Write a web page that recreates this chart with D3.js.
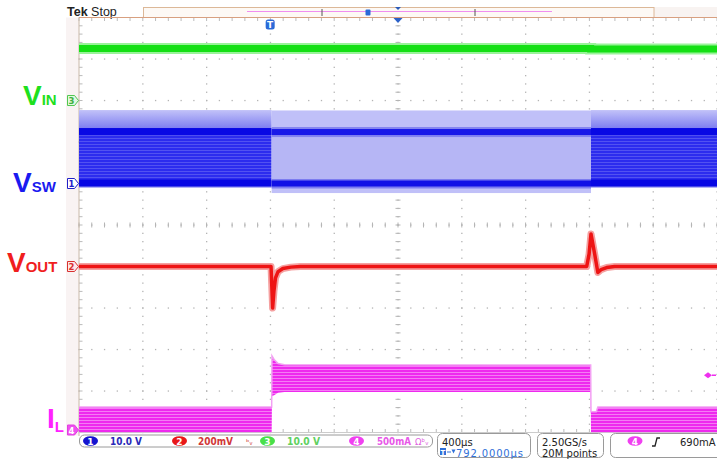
<!DOCTYPE html>
<html><head><meta charset="utf-8">
<script src="https://cdn.jsdelivr.net/npm/d3@7"></script>
<style>html,body{margin:0;padding:0;background:#fff;}svg{display:block;}</style>
</head><body><svg id="c" width="717" height="460"></svg>
<script>
// ---------------- data ----------------
const timeMinUs = -1208, timeMaxUs = 2792, timePerDivUs = 400;
const vertDivMin = -5, vertDivMax = 5;

const channelIds = [1, 2, 3, 4];
const channelMain = ['V', 'V', 'V', 'I'];
const channelSub = ['SW', 'OUT', 'IN', 'L'];
const channelOffsetDiv = [1, -1, 3, -5];
const channelPerDiv = [10, 200, 10, 500];          // V, mV, V, mA per division
const channelScaleLabels = ['10.0 V', '200mV', '10.0 V', '500mA'];

// V_IN (ch3, volts)
const vinTimeUs = [-1208, 2000, 2000, 2792];
const vinVolts = [12.55, 12.55, 12.4, 12.4];

// V_SW (ch1, volts) – envelope segments
const vswSegStartUs = [-1208, 0, 2002];
const vswSegEndUs = [0, 2002, 2792];
const vswEnvHighV = [17.7, 17.6, 17.7];
const vswEnvLowV = [-1.0, -2.3, -1.0];
const vswOnLevelV = [12.4, 12.4, 12.4];
const vswOffLevelV = [0.0, 0.0, 0.0];
const vswMode = ['burst', 'ccm', 'burst'];

// V_OUT (ch2, mV ac deviation)
const voutTimeUs = [-1208, -4, 6, 14, 24, 40, 70, 120, 180, 1975, 1990, 2002, 2025, 2045, 2065, 2100, 2150, 2792];
const voutMv =     [0,      0, -200, -120, -55, -25, -10, -3, 0, 0, 60, 157, 60, -29, -15, -5, 0, 0];

// I_L (ch4, mA envelope)
const ilTimeUs = [-1208, 0, 2, 15, 40, 80, 2000, 2002, 2008, 2035, 2045, 2792];
const ilHighMa = [307, 307, 922, 880, 830, 815, 813, 250, 250, 250, 307, 307];
const ilLowMa =  [0,    0, 440, 450, 480, 488, 488, 0, 0, 0, 0, 0];
const ilTriggerMa = 690;

// status readouts
const horizScaleLabel = '400µs';
const horizPosLabel = '792.0000µs';
const sampleRateLabel = '2.50GS/s';
const recordLabel = '20M points';
const triggerLabel = '690mA';

// ---------------- scales ----------------
const svg = d3.select('#c');
const x = d3.scaleLinear().domain([timeMinUs, timeMaxUs]).range([79, 717]);
const yDiv = d3.scaleLinear().domain([vertDivMin, vertDivMax]).range([432.5, 17.5]);
const yCh = (ci, v) => yDiv(channelOffsetDiv[ci] + v / channelPerDiv[ci]);

const defs = svg.append('defs');
const clip = defs.append('clipPath').attr('id', 'plotClip');
clip.append('rect').attr('x', 79).attr('y', 17.5).attr('width', 638).attr('height', 415);

// patterns
const pIL = defs.append('pattern').attr('id', 'ilStripes').attr('patternUnits', 'userSpaceOnUse')
  .attr('width', 6).attr('height', 3);
pIL.append('rect').attr('width', 6).attr('height', 3).attr('fill', '#ee2aee');
pIL.append('rect').attr('width', 6).attr('height', 1).attr('fill', '#f47cf4');

const pBurst = defs.append('pattern').attr('id', 'burstStripes').attr('patternUnits', 'userSpaceOnUse')
  .attr('width', 6).attr('height', 3);
pBurst.append('rect').attr('width', 6).attr('height', 3).attr('fill', '#2c2cee');
pBurst.append('rect').attr('width', 6).attr('height', 1).attr('fill', '#5252f1');

const gTop = defs.append('linearGradient').attr('id', 'burstTop').attr('x1', 0).attr('x2', 0).attr('y1', 0).attr('y2', 1);
gTop.append('stop').attr('offset', '0%').attr('stop-color', '#c2c2f8');
gTop.append('stop').attr('offset', '100%').attr('stop-color', '#7070ef');

// ---------------- frame & grid ----------------
svg.append('rect').attr('x', 66).attr('y', 17.5).attr('width', 13).attr('height', 418).attr('fill', '#f9f3f3');

const gGrid = svg.append('g');
const majorX = d3.range(timeMinUs, timeMaxUs + 1, timePerDivUs);
const majorY = d3.range(vertDivMin, vertDivMax + 1, 1);
const minorX = d3.range(timeMinUs, timeMaxUs + 1, timePerDivUs / 5);
const minorY = d3.range(vertDivMin, vertDivMax + 0.001, 0.2);

majorY.forEach(d => {
  if (d === vertDivMin || d === vertDivMax) return;
  minorX.forEach(t => {
    gGrid.append('rect').attr('x', x(t) - 0.6).attr('y', yDiv(d) - 0.6).attr('width', 1.3).attr('height', 1.3).attr('fill', '#b4b4b4');
  });
});
majorX.forEach(t => {
  if (t === timeMinUs) return;
  minorY.forEach(d => {
    gGrid.append('rect').attr('x', x(t) - 0.6).attr('y', yDiv(d) - 0.6).attr('width', 1.3).attr('height', 1.3).attr('fill', '#b4b4b4');
  });
});
const cx = x((timeMinUs + timeMaxUs) / 2), cy = yDiv(0);
minorX.forEach(t => gGrid.append('line').attr('x1', x(t)).attr('x2', x(t)).attr('y1', cy - 2.5).attr('y2', cy + 2.5).attr('stroke', '#b4b4b4'));
minorY.forEach(d => gGrid.append('line').attr('x1', cx - 2.5).attr('x2', cx + 2.5).attr('y1', yDiv(d)).attr('y2', yDiv(d)).attr('stroke', '#b4b4b4'));
minorX.forEach(t => {
  gGrid.append('line').attr('x1', x(t)).attr('x2', x(t)).attr('y1', 17.5).attr('y2', 21).attr('stroke', '#bbbbbb');
  gGrid.append('line').attr('x1', x(t)).attr('x2', x(t)).attr('y1', 429).attr('y2', 432.5).attr('stroke', '#bbbbbb');
});
minorY.forEach(d => gGrid.append('line').attr('x1', 79).attr('x2', 82.5).attr('y1', yDiv(d)).attr('y2', yDiv(d)).attr('stroke', '#bbbbbb'));
gGrid.append('line').attr('x1', 79).attr('x2', 79).attr('y1', 17.5).attr('y2', 436).attr('stroke', '#c8b8a8');
gGrid.append('line').attr('x1', 79).attr('x2', 717).attr('y1', 432.5).attr('y2', 432.5).attr('stroke', '#cccccc');

// ---------------- traces ----------------
const gT = svg.append('g').attr('clip-path', 'url(#plotClip)');

// V_SW (ch index 0)
vswSegStartUs.forEach((s, i) => {
  const x0 = x(s), x1 = x(vswSegEndUs[i]);
  const w = x1 - x0;
  const yHi = yCh(0, vswEnvHighV[i]), yLo = yCh(0, vswEnvLowV[i]);
  const yOn = yCh(0, vswOnLevelV[i]), yOff = yCh(0, vswOffLevelV[i]);
  if (vswMode[i] === 'burst') {
    gT.append('rect').attr('x', x0).attr('y', yHi).attr('width', w).attr('height', yOn - yHi).attr('fill', 'url(#burstTop)');
    gT.append('rect').attr('x', x0).attr('y', yOn).attr('width', w).attr('height', yOff - yOn).attr('fill', 'url(#burstStripes)');
    gT.append('rect').attr('x', x0).attr('y', yOff).attr('width', w).attr('height', yLo - yOff).attr('fill', '#8c8cf2');
    gT.append('rect').attr('x', x0).attr('y', yOn - 4).attr('width', w).attr('height', 7).attr('fill', '#0808e4');
    gT.append('rect').attr('x', x0).attr('y', yOff - 4).attr('width', w).attr('height', 7).attr('fill', '#0808e4');
  } else {
    gT.append('rect').attr('x', x0).attr('y', yHi).attr('width', w).attr('height', yLo - yHi).attr('fill', '#c0c0f8');
    gT.append('rect').attr('x', x0).attr('y', yOn + 3).attr('width', w).attr('height', yOff - yOn - 6).attr('fill', '#b6b6f5');
    gT.append('rect').attr('x', x0).attr('y', yOn - 5).attr('width', w).attr('height', 10).attr('fill', '#8484f0');
    gT.append('rect').attr('x', x0).attr('y', yOn - 3).attr('width', w).attr('height', 6).attr('fill', '#1818e8');
    gT.append('rect').attr('x', x0).attr('y', yOff - 4.5).attr('width', w).attr('height', 9.5).attr('fill', '#7c7cf0');
    gT.append('rect').attr('x', x0).attr('y', yOff - 3).attr('width', w).attr('height', 6).attr('fill', '#1010e6');
  }
});

// V_IN (ch index 2)
const lineGen = d3.line();
const vinPts = vinTimeUs.map((t, i) => [x(t), yCh(2, vinVolts[i])]);
gT.append('path').attr('d', lineGen(vinPts)).attr('fill', 'none').attr('stroke', '#9af29a').attr('stroke-width', 11);
gT.append('path').attr('d', lineGen(vinPts)).attr('fill', 'none').attr('stroke', '#14e014').attr('stroke-width', 7);

// V_OUT (ch index 1)
const voutPts = voutTimeUs.map((t, i) => [x(t), yCh(1, voutMv[i])]);
gT.append('path').attr('d', lineGen(voutPts)).attr('fill', 'none').attr('stroke', '#f5a0a0').attr('stroke-width', 7).attr('stroke-linejoin', 'round');
gT.append('path').attr('d', lineGen(voutPts)).attr('fill', 'none').attr('stroke', '#ee1414').attr('stroke-width', 3.5).attr('stroke-linejoin', 'round');

// I_L (ch index 3)
const ilArea = d3.area().x((d, i) => x(ilTimeUs[i])).y0((d, i) => yCh(3, ilLowMa[i])).y1((d, i) => yCh(3, ilHighMa[i]));
gT.append('path').attr('d', ilArea(ilTimeUs)).attr('fill', 'url(#ilStripes)');
const ilTop = d3.line().x((d, i) => x(ilTimeUs[i])).y((d, i) => yCh(3, ilHighMa[i]));
gT.append('path').attr('d', ilTop(ilTimeUs)).attr('fill', 'none').attr('stroke', '#f3a0f3').attr('stroke-width', 1.5);

// trigger level marker (ch4)
const yTrig = yCh(3, ilTriggerMa);
svg.append('path').attr('d', `M704,${yTrig} L708,${yTrig - 3} L712,${yTrig} L708,${yTrig + 3} Z`).attr('fill', '#ee30ee');
svg.append('line').attr('x1', 712).attr('x2', 716).attr('y1', yTrig).attr('y2', yTrig).attr('stroke', '#ee30ee').attr('stroke-width', 1.5);

// ---------------- channel markers & labels ----------------
const markerFill = ['#ffffff', '#fde8e8', '#e2f8e2', '#f050f0'];
const markerStroke = ['#2020c8', '#d83030', '#50c850', '#e040e0'];
const markerText = ['#2020c8', '#d83030', '#40b040', '#ffffff'];
const labelColor = ['#1a1af0', '#f01e1e', '#1ee01e', '#ff22ff'];
channelIds.forEach((id, i) => {
  let ym = Math.min(yDiv(channelOffsetDiv[i]), 430);
  svg.append('path').attr('d', `M67.5,${ym - 5} L74.5,${ym - 5} L78.5,${ym} L74.5,${ym + 5} L67.5,${ym + 5} Z`)
    .attr('fill', markerFill[i]).attr('stroke', markerStroke[i]).attr('stroke-width', 1);
  svg.append('text').attr('x', 71.5).attr('y', ym + 3.5).attr('text-anchor', 'middle')
    .attr('font-family', 'DejaVu Sans').attr('font-size', 8.5).attr('font-weight', 'bold').attr('fill', markerText[i]).text(id);
});
const labelPos = [[13, 192], [7, 272], [23, 105], [47, 428]];
channelIds.forEach((id, i) => {
  const t = svg.append('text').attr('x', labelPos[i][0]).attr('y', labelPos[i][1])
    .attr('font-family', 'Liberation Sans, Arial, sans-serif').attr('font-weight', 'bold').attr('fill', labelColor[i]);
  t.append('tspan').attr('font-size', 28).text(channelMain[i]);
  t.append('tspan').attr('font-size', 15).attr('dy', i === 3 ? 4 : 0).text(channelSub[i]);
});

// ---------------- top bar ----------------
svg.append('text').attr('x', 67).attr('y', 16).attr('font-family', 'Liberation Sans, Arial').attr('font-size', 12.5)
  .attr('fill', '#222').html('<tspan font-weight="bold">Tek</tspan> Stop');
svg.append('rect').attr('x', 654).attr('y', 7).attr('width', 63).attr('height', 10).attr('fill', '#f8f3f1');
svg.append('rect').attr('x', 143.5).attr('y', 7.5).attr('width', 510.5).attr('height', 10).attr('fill', '#fdf9f5').attr('stroke', '#dcb898');
svg.append('line').attr('x1', 79).attr('x2', 717).attr('y1', 17.5).attr('y2', 17.5).attr('stroke', '#d8a080').attr('stroke-width', 1.2);
svg.append('line').attr('x1', 247).attr('x2', 552).attr('y1', 11.5).attr('y2', 11.5).attr('stroke', '#f08ef0').attr('stroke-width', 1);
[322, 475].forEach(xx => svg.append('line').attr('x1', xx).attr('x2', xx).attr('y1', 9).attr('y2', 16).attr('stroke', '#555').attr('stroke-width', 1));
svg.append('rect').attr('x', 365.5).attr('y', 9.5).attr('width', 5).attr('height', 6).attr('rx', 1).attr('fill', '#2a6ad8');
svg.append('path').attr('d', `M${cx - 3},7 L${cx + 3},7 L${cx},10 Z`).attr('fill', '#2a5ab8');
svg.append('path').attr('d', `M${cx - 4.5},18 L${cx + 4.5},18 L${cx},23 Z`).attr('fill', '#2a60c8');
const xT = x(0) - 1.5;
svg.append('rect').attr('x', xT - 4.5).attr('y', 19.5).attr('width', 9).attr('height', 10).attr('rx', 2.5).attr('fill', '#2a6ad8');
svg.append('text').attr('x', xT).attr('y', 28).attr('text-anchor', 'middle').attr('font-family', 'DejaVu Sans').attr('font-weight', 'bold')
  .attr('font-size', 9).attr('fill', '#fff').text('T');

// ---------------- status bar ----------------
const sb = svg.append('g').attr('font-family', 'DejaVu Sans').attr('font-size', 10);
sb.append('rect').attr('x', 79.5).attr('y', 435).attr('width', 353).attr('height', 12).attr('rx', 5).attr('fill', '#fff').attr('stroke', '#9a9a9a');
sb.append('rect').attr('x', 437.5).attr('y', 433.5).attr('width', 93).attr('height', 24).attr('rx', 5).attr('fill', '#fff').attr('stroke', '#9a9a9a');
sb.append('rect').attr('x', 537.5).attr('y', 433.5).attr('width', 66).attr('height', 24).attr('rx', 5).attr('fill', '#fff').attr('stroke', '#9a9a9a');
sb.append('rect').attr('x', 610.5).attr('y', 433.5).attr('width', 120).attr('height', 24).attr('rx', 5).attr('fill', '#fff').attr('stroke', '#9a9a9a');

const badgeColor = ['#1414d0', '#e81818', '#48e048', '#f040f0'];
const scaleTextColor = ['#2a2ab8', '#d03838', '#60d060', '#e858e8'];
const badgeX = [90.5, 179.5, 267.5, 356.5];
const scaleTextX = [110, 198, 287, 377];
const scaleTextW = [32, 35, 33, 34];
channelIds.forEach((id, i) => {
  sb.append('ellipse').attr('cx', badgeX[i]).attr('cy', 441).attr('rx', 7.5).attr('ry', 4.8).attr('fill', badgeColor[i]);
  sb.append('text').attr('x', badgeX[i]).attr('y', 444.5).attr('text-anchor', 'middle').attr('font-size', 9).attr('font-weight', 'bold').attr('fill', '#fff').text(id);
  sb.append('text').attr('x', scaleTextX[i]).attr('y', 445).attr('font-weight', 'bold').attr('font-size', 10)
    .attr('textLength', scaleTextW[i]).attr('lengthAdjust', 'spacingAndGlyphs').attr('fill', scaleTextColor[i]).text(channelScaleLabels[i]);
});
sb.append('text').attr('x', 246).attr('y', 445).attr('font-size', 8).attr('fill', '#d04040').text('ᵇᵥ');
sb.append('text').attr('x', 415).attr('y', 445).attr('font-size', 8.5).attr('fill', '#e060e0').text('Ωᵇᵥ');

sb.append('text').attr('x', 442).attr('y', 445.5).attr('fill', '#222').text(horizScaleLabel);
sb.append('rect').attr('x', 440).attr('y', 448).attr('width', 6).attr('height', 7).attr('fill', '#3070d8');
sb.append('text').attr('x', 443).attr('y', 454.5).attr('text-anchor', 'middle').attr('font-size', 7).attr('font-weight', 'bold').attr('fill', '#fff').text('T');
// arrow + small triangle icon
sb.append('line').attr('x1', 447).attr('x2', 451).attr('y1', 452).attr('y2', 452).attr('stroke', '#3070d8').attr('stroke-width', 1);
sb.append('path').attr('d', 'M451.5,449.5 L455.5,449.5 L453.5,453.5 Z').attr('fill', '#3070d8');
sb.append('text').attr('x', 456).attr('y', 456.5).attr('fill', '#3070d8').attr('textLength', 67).text(horizPosLabel);

sb.append('text').attr('x', 542).attr('y', 445.5).attr('fill', '#222').text(sampleRateLabel);
sb.append('text').attr('x', 542).attr('y', 456.5).attr('fill', '#222').text(recordLabel);

sb.append('ellipse').attr('cx', 635).attr('cy', 441).attr('rx', 7.5).attr('ry', 4.8).attr('fill', badgeColor[3]);
sb.append('text').attr('x', 635).attr('y', 444.5).attr('text-anchor', 'middle').attr('font-size', 9).attr('font-weight', 'bold').attr('fill', '#fff').text('4');
sb.append('path').attr('d', 'M652,446 L655,446 L657,438 L660,438').attr('fill', 'none').attr('stroke', '#222').attr('stroke-width', 1.3);
sb.append('text').attr('x', 680).attr('y', 445.5).attr('fill', '#222').text(triggerLabel);
</script></body></html>
